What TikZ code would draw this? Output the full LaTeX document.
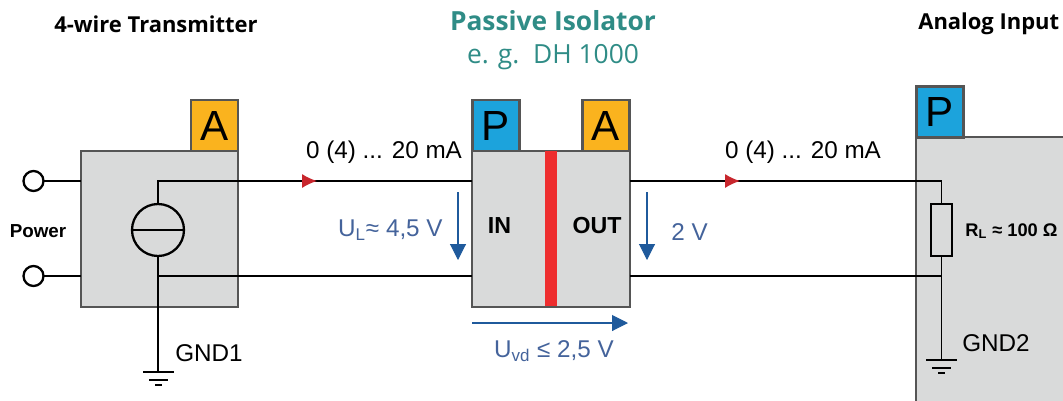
\documentclass[tikz,border=0pt]{standalone}
\usepackage{fontspec}
\setmainfont{Liberation Sans}
\newfontfamily\titlefont{Open Sans}
\usetikzlibrary{arrows.meta}

\definecolor{boxgray}{HTML}{D9DADA}
\definecolor{boxline}{HTML}{555555}
\definecolor{tagyellow}{HTML}{FAB31E}
\definecolor{tagblue}{HTML}{1CA3DC}
\definecolor{barred}{HTML}{EE2D2E}
\definecolor{tipred}{HTML}{C8262D}
\definecolor{volt}{HTML}{1F5A9C}
\definecolor{volttext}{HTML}{44639B}
\definecolor{teal}{HTML}{2F8C86}

\tikzset{
  block/.style={draw=boxline,fill=boxgray,line width=1.3pt,outer sep=0pt,inner sep=0pt},
  tagA/.style={draw=boxline,fill=tagyellow,line width=1.3pt,outer sep=0pt,inner sep=0pt,
    minimum width=0.94cm,minimum height=1.02cm,font=\fontsize{24}{24}\selectfont},
  tagP/.style={tagA,fill=tagblue},
  wire/.style={line width=0.9pt,black},
  terminal/.style={circle,draw=black,fill=white,line width=1.3pt,minimum size=0.4cm,inner sep=0pt,outer sep=0pt},
  flowtip/.style={-{Latex[color=tipred,length=8.5pt,width=8pt]},wire},
  voltarrow/.style={-{Triangle[length=9pt,width=9pt]},volt,line width=0.6pt},
  current/.style={font=\fontsize{13.8}{15}\selectfont},
  volts/.style={font=\fontsize{13.8}{15}\selectfont,text=volttext},
  inner/.style={font=\bfseries\fontsize{13.2}{15}\selectfont},
  heading/.style={font=\titlefont\bfseries\fontsize{12.5}{14}\selectfont}
}

\begin{document}
\begin{tikzpicture}[x=0.02cm,y=-0.02cm]
  \useasboundingbox (0,0) rectangle (1063,400);
  \clip (0,0) rectangle (1063,400);
  % headings
  \node[heading] (txtitle) at (156,24) {4-wire Transmitter};
  \node[font=\titlefont\bfseries\fontsize{15}{18}\selectfont,text=teal] (isotitle) at (553,21) {Passive Isolator};
  \node[font=\titlefont\fontsize{15}{18}\selectfont,text=teal] (isosub) at (553,57) {e. g.\ \ DH 1000};
  \node[heading,anchor=west,inner sep=0pt] (aititle) at (918,24) {Analog Input};
  % blocks
  \node[block,minimum width=3.14cm,minimum height=3.12cm] (tx) at (159.5,229) {};
  \node[tagA] (txA) at (214.5,125.5) {A};
  \node[block,minimum width=3.16cm,minimum height=3.12cm] (iso) at (551,229) {};
  \node[tagP] (isoP) at (496,125.5) {P};
  \node[tagA] (isoA) at (606,125.5) {A};
  \fill[barred] (iso.north -| 545,0) rectangle (557,306);
  \node[block,minimum width=4cm,minimum height=6cm,anchor=north west] (ai) at (916,137) {};
  \node[tagP] (aiP) at (940,112) {P};
  % power side
  \node[terminal] (pwrtop) at (33.5,181) {};
  \node[terminal] (pwrbot) at (33.5,276) {};
  \node[font=\bfseries\fontsize{10.7}{12}\selectfont] (power) at (38,231) {Power};
  \draw[wire] (pwrtop) -- (tx.west |- pwrtop);
  \draw[wire] (pwrbot) -- (tx.west |- pwrbot);
  % current source and ground
  \node[circle,draw=black,line width=1.3pt,minimum size=1.04cm,inner sep=0pt,outer sep=0pt] (src) at (158,230) {};
  \draw[line width=1.3pt] (src.west) -- (src.east);
  \coordinate (gnda) at (158,372);
  \draw[wire] (src.north) |- (iso.west |- pwrtop);
  \draw[wire] (src.south) -- (gnda);
  \draw[wire] (158,276) -- (iso.west |- pwrbot);
  \draw[wire] (143,372) -- (174,372);
  \draw[wire] (149,380) -- (168,380);
  \draw[line width=1.1pt] (155,385) -- (162,385);
  \node[current,anchor=west,inner sep=0pt] (gndone) at (175,353) {GND1};
  % load side
  \node[draw=black,fill=boxgray,line width=0.9pt,minimum width=0.42cm,minimum height=1.04cm,inner sep=0pt,outer sep=0pt] (rl) at (941.5,230) {};
  \coordinate (gndb) at (941.5,360);
  \draw[wire] (iso.east |- pwrtop) -| (rl.north);
  \draw[wire] (rl.south) -- (gndb);
  \draw[wire] (iso.east |- pwrbot) -- (rl.south |- pwrbot);
  \draw[wire] (926,360) -- (957,360);
  \draw[wire] (932,368) -- (951,368);
  \draw[line width=1.1pt] (938,373) -- (945,373);
  \node[font=\bfseries\fontsize{10.4}{12}\selectfont,anchor=west,inner sep=0pt] (rltext) at (965,231) {R\textsubscript{L} ≈ 100 Ω};
  \node[current,anchor=west,inner sep=0pt] (gndtwo) at (962,343) {GND2};
  % flow arrows
  \coordinate (flowa) at (300,181);
  \coordinate (flowb) at (317,181);
  \coordinate (flowc) at (723,181);
  \coordinate (flowd) at (740,181);
  \draw[flowtip] (flowa) -- (flowb);
  \draw[flowtip] (flowc) -- (flowd);
  \node[current] (ileft) at (384,152) {0 (4) ... 20 mA};
  \node[current] (iright) at (803,152) {0 (4) ... 20 mA};
  % inside the isolator
  \node[inner] (intext) at (499.5,226) {IN};
  \node[inner] (outtext) at (597,226) {OUT};
  % voltages
  \coordinate (ula) at (458,192);
  \coordinate (ulb) at (458,260);
  \coordinate (uoa) at (647,192);
  \coordinate (uob) at (647,260);
  \coordinate (uda) at (472,323);
  \coordinate (udb) at (628,323);
  \draw[voltarrow] (ula) -- (ulb);
  \draw[voltarrow] (uoa) -- (uob);
  \draw[voltarrow] (uda) -- (udb);
  \node[volts,anchor=east,inner sep=0pt] (ultext) at (443,230) {U\textsubscript{L}≈ 4,5 V};
  \node[volts,anchor=west,inner sep=0pt] (uotext) at (671,232) {2 V};
  \node[volts] (udtext) at (554,351) {U\textsubscript{vd} ≤ 2,5 V};
\end{tikzpicture}
\end{document}
